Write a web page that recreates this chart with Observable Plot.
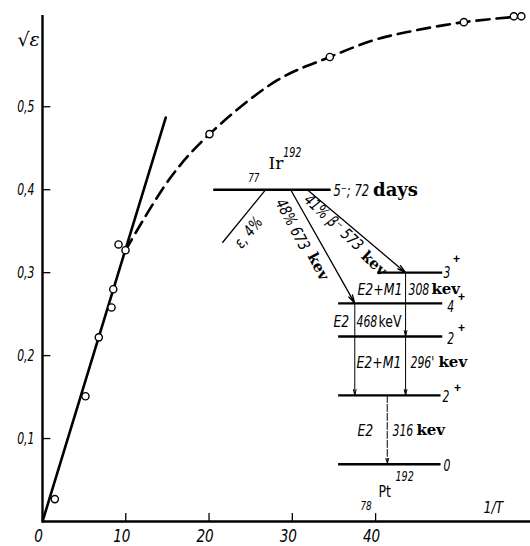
<!DOCTYPE html>
<html><head><meta charset="utf-8">
<script src="https://cdn.jsdelivr.net/npm/d3@7"></script>
<script src="https://cdn.jsdelivr.net/npm/@observablehq/plot@0.6"></script>
<style>body{margin:0;background:#fff} #chart svg{display:block;background:#fff}</style>
</head><body><div id="chart"></div>
<script>
// ---- measured points (x = 1/T, y = sqrt(eps)) ----
const pointX = [1.48, 5.16, 6.76, 8.29, 8.5, 9.13, 9.97, 20.05, 34.5, 50.6, 56.6, 57.5];
const pointY = [0.027, 0.151, 0.222, 0.258, 0.28, 0.334, 0.327, 0.467, 0.560, 0.602, 0.609, 0.609];
// straight line through origin
const fitX = [0, 14.8];
const fitY = [0, 0.487];
// dashed curve
const curveX = [9.97, 15.4, 20.05, 28.2, 34.5, 39.7, 43.8, 50.6, 57.5];
const curveY = [0.327, 0.415, 0.467, 0.532, 0.560, 0.580, 0.590, 0.602, 0.609];
// axes
const xTicks = [0, 10, 20, 30, 40];
const xTickLabels = ["0", "10", "20", "30", "40"];
const yTicks = [0.1, 0.2, 0.3, 0.4, 0.5];
const yTickLabels = ["0,1", "0,2", "0,3", "0,4", "0,5"];
const xMax = 58.6, yMax = 0.61;

// ---- decay scheme 192Ir -> 192Pt (drawn in chart coordinates) ----
const levelY  = [0.400, 0.300, 0.263, 0.223, 0.152, 0.069];
const levelX1 = [20.5, 40.2, 35.5, 35.5, 35.5, 35.5];
const levelX2 = [34.6, 48.0, 48.0, 48.0, 47.8, 47.8];
const spinText = ["3", "4", "2", "2", "0"];
const spinX = [48.15, 48.6, 48.6, 48.03, 48.15];
const spinY = [0.2996, 0.259, 0.2206, 0.1507, 0.0675];
const parityX = [49.3, 49.9, 49.9, 49.4];
const parityY = [0.316, 0.271, 0.2325, 0.161];
// beta branches (arrows)
const betaX1 = [29.8, 31.8], betaY1 = [0.400, 0.400];
const betaX2 = [37.5, 43.6], betaY2 = [0.263, 0.300];
// electron capture branch (no head)
const ecX1 = 26.8, ecY1 = 0.400, ecX2 = 21.6, ecY2 = 0.336;
// gamma transitions
const gammaX1 = [43.6, 43.6, 37.5], gammaY1 = [0.300, 0.223, 0.263];
const gammaX2 = [43.6, 43.6, 37.5], gammaY2 = [0.223, 0.152, 0.152];
const g316X = 41.4, g316Y1 = 0.152, g316Y2 = 0.069;
const multText = ["E2+M1", "E2", "E2+M1", "E2"];
const multX = [37.82, 34.94, 37.7, 37.82];
const multY = [0.2797, 0.2411, 0.1917, 0.1097];
const energyText = ["308", "468", "296'", "316"];
const energyX = [43.95, 37.7, 44.19, 42.03];
const kevX = [46.7, 47.55, 44.9];
const kevY = [0.2797, 0.1917, 0.1097];

const sansIt = "'DejaVu Sans',sans-serif";
const serif = "'DejaVu Serif','Liberation Serif',serif";

const rows = (xs, ys, extra) => xs.map((x, i) => Object.assign({x, y: ys[i]}, extra ? extra(i) : {}));
const it = {fontFamily: sansIt, fontStyle: "italic", fontSize: 16};
const up = {fontFamily: sansIt, fontSize: 16};
const bold = {fontFamily: serif, fontWeight: "bold", fontSize: 15};

const chart = Plot.plot({
  width: 530, height: 546,
  marginLeft: 42, marginRight: 0, marginTop: 15, marginBottom: 25,
  x: {domain: [0, xMax], axis: null},
  y: {domain: [0, yMax], axis: null},
  marks: [
    // axes
    Plot.ruleX([0], {y1: 0, y2: yMax, strokeWidth: 2.4}),
    Plot.ruleY([0], {x1: 0, x2: xMax, strokeWidth: 2.4}),
    Plot.ruleY(yTicks, {x1: 0, x2: 1.0, strokeWidth: 1.3}),
    Plot.ruleX(xTicks.slice(1), {y1: 0, y2: 0.0095, strokeWidth: 1.3}),
    Plot.text(rows(yTicks.map(() => 0), yTicks, i => ({t: yTickLabels[i]})),
      {x: "x", y: "y", text: "t", dx: -8, textAnchor: "end", ...it}),
    Plot.text(rows(xTicks, xTicks.map(() => 0), i => ({t: xTickLabels[i]})),
      {x: "x", y: "y", text: "t", dx: -4, dy: 15, ...it, fontSize: 17}),
    Plot.text([{x: -3.0, y: 0.581}], {x: "x", y: "y", text: () => "√ε", textAnchor: "start", fontFamily: serif, fontStyle: "italic", fontSize: 19}),
    Plot.text([{x: 52.95, y: 0.0169}], {x: "x", y: "y", text: () => "1/T", textAnchor: "start", ...it}),

    // fit line and dashed curve
    Plot.line(rows(fitX, fitY), {x: "x", y: "y", strokeWidth: 2.6}),
    Plot.line(rows(curveX, curveY), {x: "x", y: "y", curve: "catmull-rom", strokeWidth: 2.6, strokeDasharray: "13,7"}),
    Plot.dot(rows(pointX, pointY), {x: "x", y: "y", r: 3.6, fill: "white", stroke: "black", strokeWidth: 1.4}),

    // decay scheme levels
    Plot.link(rows(levelX1, levelY, i => ({x2: levelX2[i]})), {x1: "x", x2: "x2", y1: "y", y2: "y", strokeWidth: 2.4}),
    Plot.link([{x1: ecX1, y1: ecY1, x2: ecX2, y2: ecY2}], {x1: "x1", y1: "y1", x2: "x2", y2: "y2", strokeWidth: 1.3}),
    Plot.arrow(rows(betaX1, betaY1, i => ({x2: betaX2[i], y2: betaY2[i]})), {x1: "x", y1: "y", x2: "x2", y2: "y2", strokeWidth: 1.3, headLength: 10, headAngle: 28}),
    Plot.arrow(rows(gammaX1, gammaY1, i => ({x2: gammaX2[i], y2: gammaY2[i]})), {x1: "x", y1: "y", x2: "x2", y2: "y2", strokeWidth: 1, headLength: 9, headAngle: 26}),
    Plot.arrow([{x1: g316X, y1: g316Y1, x2: g316X, y2: g316Y2}], {x1: "x1", y1: "y1", x2: "x2", y2: "y2", strokeWidth: 1, strokeDasharray: "7,2", headLength: 9, headAngle: 26}),

    // level labels
    Plot.text(rows(spinX, spinY, i => ({t: spinText[i]})), {x: "x", y: "y", text: "t", textAnchor: "start", ...it}),
    Plot.text(rows(parityX, parityY), {x: "x", y: "y", text: () => "+", textAnchor: "start", fontFamily: "'Liberation Sans',sans-serif", fontSize: 12, fontWeight: "bold"}),
    Plot.text([{x: 24.7, y: 0.4147}], {x: "x", y: "y", text: () => "77", textAnchor: "start", ...it, fontSize: 13}),
    Plot.text([{x: 27.14, y: 0.431}], {x: "x", y: "y", text: () => "Ir", textAnchor: "start", fontFamily: serif, fontSize: 17}),
    Plot.text([{x: 28.9, y: 0.445}], {x: "x", y: "y", text: () => "192", textAnchor: "start", ...it, fontSize: 14}),
    Plot.text([{x: 34.94, y: 0.399}], {x: "x", y: "y", text: () => "5⁻; 72", textAnchor: "start", ...it}),
    Plot.text([{x: 39.7, y: 0.399}], {x: "x", y: "y", text: () => "days", textAnchor: "start", ...bold, fontSize: 18}),
    Plot.text([{x: 40.35, y: 0.0362}], {x: "x", y: "y", text: () => "Pt", textAnchor: "start", ...up}),
    Plot.text([{x: 42.39, y: 0.0542}], {x: "x", y: "y", text: () => "192", textAnchor: "start", ...it, fontSize: 14}),
    Plot.text([{x: 38.18, y: 0.0193}], {x: "x", y: "y", text: () => "78", textAnchor: "start", ...it, fontSize: 13}),

    // transition labels
    Plot.text(rows(multX, multY, i => ({t: multText[i]})), {x: "x", y: "y", text: "t", textAnchor: "start", ...it}),
    Plot.text(rows(energyX, multY, i => ({t: energyText[i]})), {x: "x", y: "y", text: "t", textAnchor: "start", ...it}),
    Plot.text(rows(kevX, kevY), {x: "x", y: "y", text: () => "kev", textAnchor: "start", ...bold}),
    Plot.text([{x: 40.35, y: 0.2411}], {x: "x", y: "y", text: () => "keV", textAnchor: "start", ...up}),
    Plot.text([{x: 24.74, y: 0.3484}], {x: "x", y: "y", text: () => "ε, 4%", rotate: -51, ...it}),
    Plot.text([{x: 30.02, y: 0.358}], {x: "x", y: "y", text: () => "48% 673", rotate: 62, ...it}),
    Plot.text([{x: 33.1, y: 0.3075}], {x: "x", y: "y", text: () => "kev", rotate: 62, ...bold}),
    Plot.text([{x: 34.94, y: 0.3605}], {x: "x", y: "y", text: () => "41% β⁻ 573", rotate: 43, ...it}),
    Plot.text([{x: 39.8, y: 0.311}], {x: "x", y: "y", text: () => "kev", rotate: 43, ...bold})
  ]
});
document.getElementById("chart").append(chart);
// condense the sans lettering (glyphs squeezed horizontally, text stays text)
chart.querySelectorAll("g[font-family]").forEach(g => {
  if (g.getAttribute("font-family") !== sansIt) return;
  const big = +g.getAttribute("font-size") >= 17;
  g.querySelectorAll("text").forEach(t => {
    const s = t.textContent;
    const k = /^[\d,']+$/.test(s) ? (big ? 0.8 : 0.68) : s.includes("⁻;") ? 0.72 : 0.78;
    const w = t.getComputedTextLength();
    if (w > 0) { t.setAttribute("textLength", (w * k).toFixed(1)); t.setAttribute("lengthAdjust", "spacingAndGlyphs"); }
  });
});
</script>
</body></html>
